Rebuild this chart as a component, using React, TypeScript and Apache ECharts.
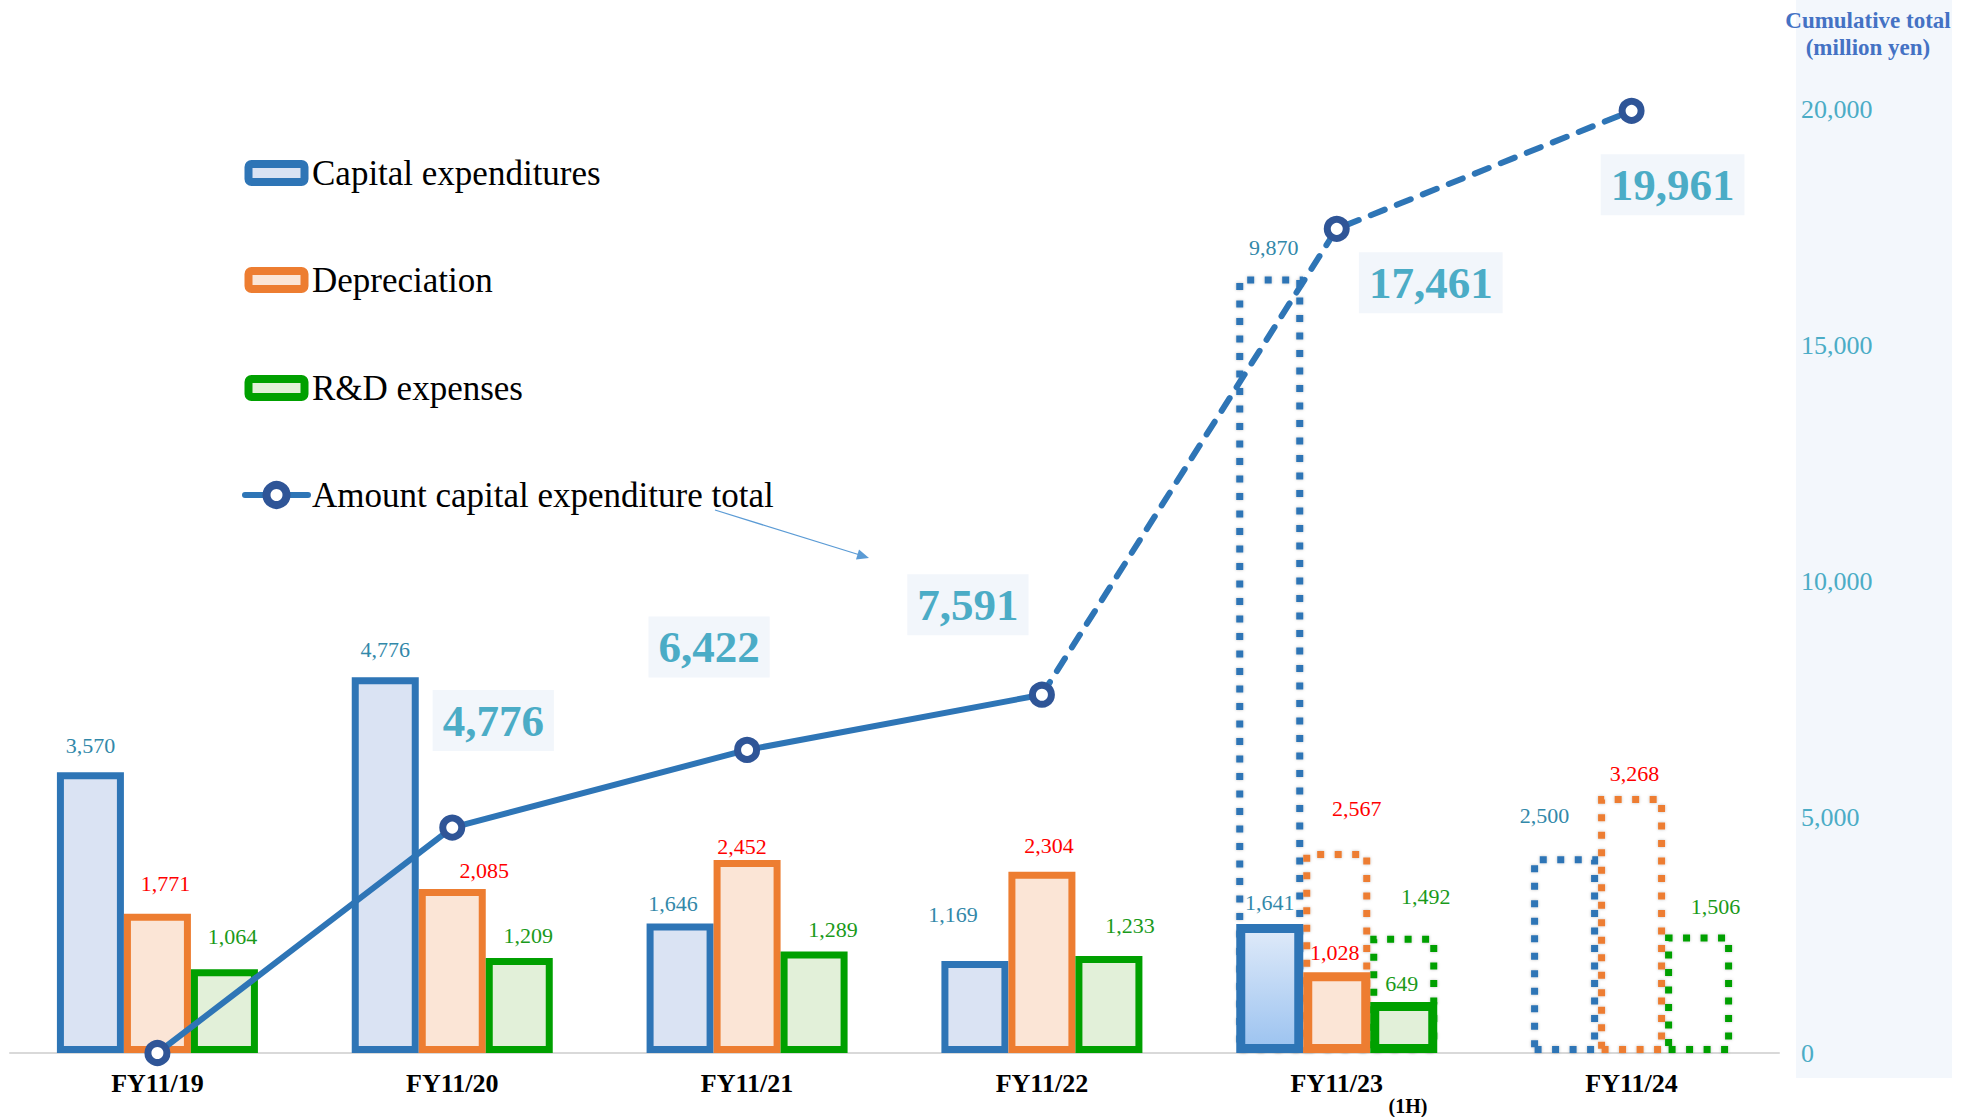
import React, { useEffect, useRef } from "react";
import * as echarts from "echarts";

// ---------- data ----------
const categories = ["FY11/19", "FY11/20", "FY11/21", "FY11/22", "FY11/23", "FY11/24"];
const capexActual: (number | null)[] = [3570, 4776, 1646, 1169, 1641, null];
const depreciationActual: (number | null)[] = [1771, 2085, 2452, 2304, 1028, null];
const rdActual: (number | null)[] = [1064, 1209, 1289, 1233, 649, null];
const capexPlan: (number | null)[] = [null, null, null, null, 9870, 2500];
const depreciationPlan: (number | null)[] = [null, null, null, null, 2567, 3268];
const rdPlan: (number | null)[] = [null, null, null, null, 1492, 1506];
const cumulativeTotal = [0, 4776, 6422, 7591, 17461, 19961];
const rightAxisTicks = [0, 5000, 10000, 15000, 20000];
const legendNames = ["Capital expenditures", "Depreciation", "R&D expenses", "Amount capital expenditure total"];
const lastActualIndex = 3; // solid line ends at FY11/22
const halfYearIndex = 4; // FY11/23 actual is first half only

// ---------- layout (label placement: [dx, distance above bar top]) ----------
const capexActualLabelPos = [[0, 23], [0, 24], [-7, 17], [-22, 43], [0, 18], null];
const depActualLabelPos = [[8, 27], [32, 15], [-5, 10], [7, 23], [-2, 16], null];
const rdActualLabelPos = [[8, 29], [9, 19], [19, 19], [21, 27], [-2, 15], null];
const capexPlanLabelPos = [null, null, null, null, [4, 26], [-20, 37]];
const depPlanLabelPos = [null, null, null, null, [20, 39], [3, 19]];
const rdPlanLabelPos = [null, null, null, null, [22, 36], [17, 25]];
const lineLabelOffset = [null, [41, -107], [-38, -103], [-74, -90], [94, 54], [41, 74]];
const legendRowY = [173, 280, 388, 495];

const SERIF = "'Liberation Serif', 'Times New Roman', serif";
const BLUE = "#2e75b6";
const ORANGE = "#ed7d31";
const GREEN = "#00a000";
const NAVY = "#2f5597";
const fmt = (v: number) => v.toLocaleString("en-US");

function barData(values: (number | null)[], pos: (number[] | null)[], bw: number, extra?: (i: number) => any) {
  return values.map((v, i) => {
    if (v == null) return "-";
    const p = pos[i] || [0, 20];
    const item: any = {
      value: v,
      label: { offset: [p[0], 11 - bw / 2 - p[1]] },
    };
    if (extra) {
      const e = extra(i);
      if (e) item.itemStyle = e;
    }
    return item;
  });
}

export default function App() {
  const ref = useRef<HTMLDivElement>(null);
  useEffect(() => {
    if (!ref.current) return;
    const chart = echarts.init(ref.current, null, { renderer: "svg" });

    const barLabel = (color: string) => ({
      show: true,
      position: "top",
      distance: 0,
      color,
      fontSize: 22,
      fontFamily: SERIF,
      formatter: (p: any) => fmt(p.value),
    });

    const solidLine = cumulativeTotal.map((v, i) => {
      if (i > lastActualIndex) return "-";
      const off = lineLabelOffset[i];
      return { value: v, label: off ? { show: true, offset: off } : { show: false } };
    });
    const dashedLine = cumulativeTotal.map((v, i) => {
      if (i < lastActualIndex) return "-";
      const off = lineLabelOffset[i];
      if (i === lastActualIndex) return { value: v, symbol: "none", label: { show: false } };
      return { value: v, label: off ? { show: true, offset: off } : { show: false } };
    });

    const lineLabel = {
      show: true,
      position: "inside",
      fontSize: 45,
      fontWeight: "bold",
      fontFamily: SERIF,
      color: "#4bacc6",
      backgroundColor: "#f2f6fb",
      padding: [8, 10],
      formatter: (p: any) => fmt(p.value),
    };

    const planStyle = (color: string) => ({
      color: "rgba(255,255,255,0)",
      borderColor: color,
      borderWidth: 7,
      borderType: [7, 10.5],
      shadowBlur: 3,
      shadowColor: "rgba(0,0,0,0.25)",
    });

    // legend drawn as graphic (icons sized like the original)
    const legendBarColors = [
      [BLUE, "#dae3f3"],
      [ORANGE, "#fbe5d6"],
      [GREEN, "#e2f0d9"],
    ];
    const legendGraphic: any[] = [];
    legendNames.forEach((name, i) => {
      const cy = legendRowY[i];
      if (i < 3) {
        legendGraphic.push({
          type: "rect",
          shape: { x: 248.5, y: cy - 9, width: 56, height: 18, r: 3 },
          style: { fill: legendBarColors[i][1], stroke: legendBarColors[i][0], lineWidth: 8 },
        });
      } else {
        legendGraphic.push({
          type: "line",
          shape: { x1: 245, y1: cy, x2: 308, y2: cy },
          style: { stroke: BLUE, lineWidth: 6, lineCap: "round" },
        });
        legendGraphic.push({
          type: "circle",
          shape: { cx: 276.5, cy, r: 10 },
          style: { fill: "#fff", stroke: NAVY, lineWidth: 8 },
        });
      }
      legendGraphic.push({
        type: "text",
        x: 312,
        y: cy,
        style: {
          text: name,
          fontSize: 35,
          fontFamily: SERIF,
          fill: "#000",
          align: "left",
          verticalAlign: "middle",
        },
      });
    });

    const option: any = {
      animation: false,
      backgroundColor: "#ffffff",
      grid: { left: 10, right: 196, top: 109, bottom: 64 },
      xAxis: [
        {
          type: "category",
          data: categories,
          boundaryGap: true,
          axisLine: { lineStyle: { color: "#d9d9d9", width: 2 } },
          axisTick: { show: false },
          axisLabel: {
            margin: 17,
            fontSize: 26,
            fontWeight: "bold",
            fontFamily: SERIF,
            color: "#000",
          },
        },
        { type: "category", data: categories, show: false },
      ],
      yAxis: [
        {
          type: "value",
          position: "right",
          min: rightAxisTicks[0],
          max: rightAxisTicks[rightAxisTicks.length - 1],
          interval: rightAxisTicks[1] - rightAxisTicks[0],
          splitLine: { show: false },
          axisLine: { show: false },
          axisTick: { show: false },
          axisLabel: {
            margin: 22,
            fontSize: 26,
            fontFamily: SERIF,
            color: "#4bacc6",
            formatter: (v: number) => fmt(v),
          },
        },
        { type: "value", min: 0, max: 12000, show: false, splitLine: { show: false } },
      ],
      graphic: [
        {
          type: "rect",
          z: -10,
          shape: { x: 1796, y: 0, width: 156, height: 1078 },
          style: { fill: "#f3f7fc" },
          silent: true,
        },
        {
          type: "text",
          x: 1868,
          y: 33.5,
          style: {
            text: "Cumulative total\n(million yen)",
            fontSize: 23,
            fontWeight: "bold",
            fontFamily: SERIF,
            fill: "#4472c4",
            align: "center",
            verticalAlign: "middle",
            lineHeight: 27,
          },
        },
        {
          type: "line",
          shape: { x1: 715, y1: 510, x2: 860, y2: 555 },
          style: { stroke: "#5b9bd5", lineWidth: 1.3 },
        },
        {
          type: "polygon",
          shape: { points: [[869, 558], [856, 559.5], [859, 549.5]] },
          style: { fill: "#5b9bd5" },
        },
        {
          type: "text",
          x: 1408,
          y: 1106,
          style: {
            text: "(1H)",
            fontSize: 20,
            fontWeight: "bold",
            fontFamily: SERIF,
            fill: "#000",
            align: "center",
            verticalAlign: "middle",
          },
        },
        ...legendGraphic,
      ],
      series: [
        {
          name: "Capital expenditures (plan)",
          type: "bar",
          xAxisIndex: 1,
          yAxisIndex: 1,
          barWidth: 67,
          barGap: "0%",
          z: 2,
          itemStyle: planStyle(BLUE),
          label: barLabel("#3288a9"),
          data: barData(capexPlan, capexPlanLabelPos, 7),
        },
        {
          name: "Depreciation (plan)",
          type: "bar",
          xAxisIndex: 1,
          yAxisIndex: 1,
          barWidth: 67,
          barGap: "0%",
          z: 2,
          itemStyle: planStyle(ORANGE),
          label: barLabel("#ff0000"),
          data: barData(depreciationPlan, depPlanLabelPos, 7),
        },
        {
          name: "R&D expenses (plan)",
          type: "bar",
          xAxisIndex: 1,
          yAxisIndex: 1,
          barWidth: 67,
          barGap: "0%",
          z: 2,
          itemStyle: planStyle(GREEN),
          label: barLabel("#1a9a1a"),
          data: barData(rdPlan, rdPlanLabelPos, 7),
        },
        {
          name: legendNames[0],
          type: "bar",
          xAxisIndex: 0,
          yAxisIndex: 1,
          barWidth: 67,
          barGap: "0%",
          z: 3,
          itemStyle: { color: "#dae3f3", borderColor: BLUE, borderWidth: 7 },
          label: barLabel("#3288a9"),
          data: barData(capexActual, capexActualLabelPos, 7, (i) =>
            i === halfYearIndex
              ? {
                  borderWidth: 9,
                  color: {
                    type: "linear",
                    x: 0,
                    y: 0,
                    x2: 0,
                    y2: 1,
                    colorStops: [
                      { offset: 0, color: "#dfeaf9" },
                      { offset: 1, color: "#9cc3f0" },
                    ],
                  },
                }
              : null
          ),
        },
        {
          name: legendNames[1],
          type: "bar",
          xAxisIndex: 0,
          yAxisIndex: 1,
          barWidth: 67,
          barGap: "0%",
          z: 3,
          itemStyle: { color: "#fbe5d6", borderColor: ORANGE, borderWidth: 7 },
          label: barLabel("#ff0000"),
          data: barData(depreciationActual, depActualLabelPos, 7, (i) =>
            i === halfYearIndex ? { borderWidth: 9 } : null
          ),
        },
        {
          name: legendNames[2],
          type: "bar",
          xAxisIndex: 0,
          yAxisIndex: 1,
          barWidth: 67,
          barGap: "0%",
          z: 3,
          itemStyle: { color: "#e2f0d9", borderColor: GREEN, borderWidth: 7 },
          label: barLabel("#1a9a1a"),
          data: barData(rdActual, rdActualLabelPos, 7, (i) =>
            i === halfYearIndex ? { borderWidth: 9 } : null
          ),
        },
        {
          name: legendNames[3] + " (plan)",
          type: "line",
          xAxisIndex: 0,
          yAxisIndex: 0,
          z: 5,
          symbol: "circle",
          symbolSize: 19,
          lineStyle: { color: BLUE, width: 6, type: [15, 13], cap: "round" },
          itemStyle: { color: "#ffffff", borderColor: NAVY, borderWidth: 7 },
          label: lineLabel,
          data: dashedLine,
        },
        {
          name: legendNames[3],
          type: "line",
          xAxisIndex: 0,
          yAxisIndex: 0,
          z: 6,
          symbol: "circle",
          symbolSize: 19,
          lineStyle: { color: BLUE, width: 6 },
          itemStyle: { color: "#ffffff", borderColor: NAVY, borderWidth: 7 },
          label: lineLabel,
          data: solidLine,
        },
      ],
    };

    chart.setOption(option);
    return () => chart.dispose();
  }, []);

  return (
    <div
      ref={ref}
      style={{ position: "fixed", left: 0, top: 0, width: 1975, height: 1117, background: "#fff" }}
    />
  );
}
